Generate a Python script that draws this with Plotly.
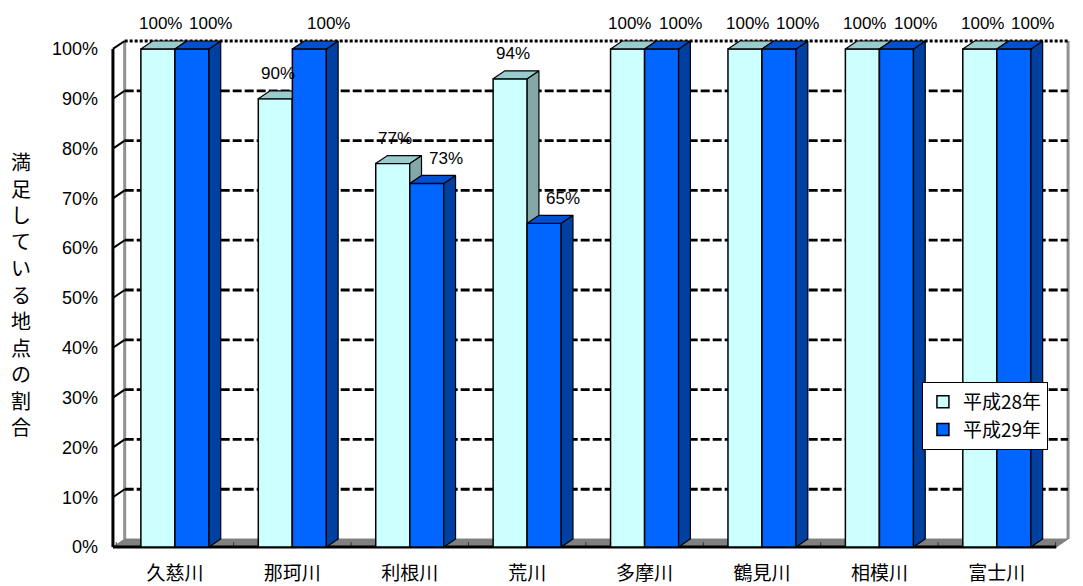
import plotly.graph_objects as go

# ---------------- data ----------------
categories = ["久慈川", "那珂川", "利根川", "荒川", "多摩川", "鶴見川", "相模川", "富士川"]
h28 = [100, 90, 77, 94, 100, 100, 100, 100]
h29 = [100, 100, 73, 65, 100, 100, 100, 100]
series_names = ["平成28年", "平成29年"]
y_tick_vals = [0, 10, 20, 30, 40, 50, 60, 70, 80, 90, 100]
y_tick_text = ["0%", "10%", "20%", "30%", "40%", "50%", "60%", "70%", "80%", "90%", "100%"]
y_title = "満足している地点の割合"

# ---------------- geometry / style ----------------
BW = 0.29      # bar width (category units)
DX = 0.10      # 3D depth in x (category units)
DY = 1.6       # 3D depth in y (percent units)
X0, X1 = -0.553, 7.640
Y0, Y1 = -0.6, 102.4
front_left = -0.528
back_right = 7.6065
front_right = back_right - DX
LABEL_DX = {0: -0.03, 1: 0.11}   # label horizontal nudge per series
LABEL_YSHIFT = 17                # px lift of label centre above top face
FIG_W, FIG_H = 1075, 578
MARGIN = dict(l=102, r=11, t=29, b=36)
TITLE_STEP_PX = 26.5             # vertical pitch of the stacked title characters

LIGHT = dict(front="#CCFFFF", top="#99CCCC", side="#84A8A8")
DARK = dict(front="#0066FF", top="#0050D0", side="#0040A0")
OUT = "black"
TXT_FONT = "Liberation Sans, Arial, sans-serif"
CJK_FONT = "Noto Sans CJK JP, sans-serif"

fig = go.Figure()

# ---------- base layer: floor, walls, gridlines ----------
fig.add_trace(go.Scatter(
    x=[front_left, front_right, back_right, front_left + DX, front_left],
    y=[0, 0, DY, DY, 0], fill="toself", fillcolor="#808080",
    mode="lines", line=dict(color="#808080", width=1),
    showlegend=False, hoverinfo="skip", xaxis="x", yaxis="y"))
fx, fy = [], []
for i in range(len(categories) + 1):
    b = i - 0.5
    if b < front_left:
        continue
    fx += [b, b, None]
    fy += [0, DY * 0.6, None]
fig.add_trace(go.Scatter(x=fx, y=fy, mode="lines", line=dict(color="#333333", width=1),
                         showlegend=False, hoverinfo="skip", xaxis="x", yaxis="y"))
fig.add_trace(go.Scatter(
    x=[front_left + DX, front_left + DX, None, back_right, back_right],
    y=[DY, 100 + DY, None, DY, 100 + DY],
    mode="lines", line=dict(color="#909090", width=3),
    showlegend=False, hoverinfo="skip", xaxis="x", yaxis="y"))
gx, gy = [], []
for v in y_tick_vals[1:-1]:
    gx += [front_left + DX, back_right, None]
    gy += [v + DY, v + DY, None]
fig.add_trace(go.Scatter(x=gx, y=gy, mode="lines",
                         line=dict(color="black", width=2.8, dash="9px,3px"),
                         showlegend=False, hoverinfo="skip", xaxis="x", yaxis="y"))
fig.add_trace(go.Scatter(x=[front_left + DX, back_right], y=[100 + DY, 100 + DY], mode="lines",
                         line=dict(color="black", width=3, dash="3px,2px"),
                         showlegend=False, hoverinfo="skip", xaxis="x", yaxis="y"))
wx, wy = [], []
for v in y_tick_vals[1:]:
    wx += [front_left, front_left + DX, None]
    wy += [v, v + DY, None]
fig.add_trace(go.Scatter(x=wx, y=wy, mode="lines", line=dict(color="black", width=2),
                         showlegend=False, hoverinfo="skip", xaxis="x", yaxis="y"))
fig.add_trace(go.Scatter(x=[front_left, front_left, None, front_left, front_right],
                         y=[100, 0, None, 0, 0], mode="lines",
                         line=dict(color="black", width=3),
                         showlegend=False, hoverinfo="skip", xaxis="x", yaxis="y"))


def add_series(vals, name, col, offset, xa, ya):
    xs = list(range(len(vals)))
    fig.add_trace(go.Bar(
        x=xs, y=vals, width=[BW] * len(vals), offset=offset, name=name,
        marker=dict(color=col["front"], line=dict(color=OUT, width=1.5)),
        xaxis=xa, yaxis=ya, showlegend=True, hoverinfo="skip"))
    sx, sy, tx, ty = [], [], [], []
    for i, v in enumerate(vals):
        xl = i + offset
        xr = xl + BW
        sx += [xr, xr, xr + DX, xr + DX, xr, None]
        sy += [0, v, v + DY, DY, 0, None]
        tx += [xl, xr, xr + DX, xl + DX, xl, None]
        ty += [v, v, v + DY, v + DY, v, None]
    fig.add_trace(go.Scatter(x=sx, y=sy, fill="toself", fillcolor=col["side"], mode="lines",
                             line=dict(color=OUT, width=1.2), showlegend=False,
                             hoverinfo="skip", xaxis=xa, yaxis=ya))
    fig.add_trace(go.Scatter(x=tx, y=ty, fill="toself", fillcolor=col["top"], mode="lines",
                             line=dict(color=OUT, width=1.2), showlegend=False,
                             hoverinfo="skip", xaxis=xa, yaxis=ya))


add_series(h28, series_names[0], LIGHT, -BW, "x2", "y2")
add_series(h29, series_names[1], DARK, 0.0, "x3", "y3")

# data labels as annotations anchored to the top face of each bar
annotations = []
for k, (vals, offset) in enumerate(((h28, -BW), (h29, 0.0))):
    for i, v in enumerate(vals):
        annotations.append(dict(
            x=i + offset + BW / 2 + DX / 2 + LABEL_DX[k], y=v + DY,
            xref="x", yref="y", text=f"{v}%", showarrow=False,
            xanchor="center", yanchor="middle", yshift=LABEL_YSHIFT,
            font=dict(family=TXT_FONT, size=17, color="black")))

# stacked vertical axis title, one character per box
plot_h = FIG_H - MARGIN["t"] - MARGIN["b"]
step = TITLE_STEP_PX / plot_h
n = len(y_title)
for i, ch in enumerate(y_title):
    annotations.append(dict(
        text=ch, xref="paper", yref="paper",
        x=-0.0925, y=0.50 + ((n - 1) / 2 - i) * step,
        xanchor="center", yanchor="middle", showarrow=False,
        height=24, borderpad=0, valign="middle",
        font=dict(family=CJK_FONT, size=20, color="black")))

hidden = dict(visible=False, showgrid=False, zeroline=False)
fig.update_layout(
    width=FIG_W, height=FIG_H,
    margin=MARGIN,
    paper_bgcolor="white", plot_bgcolor="white",
    barmode="overlay",
    xaxis=dict(range=[X0, X1], tickvals=list(range(len(categories))), ticktext=categories,
               showgrid=False, zeroline=False, showline=False, ticks="", automargin=False,
               tickfont=dict(family=CJK_FONT, size=19, color="black"),
               ticklabelstandoff=10),
    yaxis=dict(range=[Y0, Y1], tickvals=y_tick_vals, ticktext=y_tick_text,
               showgrid=False, zeroline=False, showline=False, ticks="", automargin=False,
               tickfont=dict(family=TXT_FONT, size=18, color="black"),
               ticklabelstandoff=11),
    xaxis2=dict(overlaying="x", matches="x", **hidden),
    yaxis2=dict(overlaying="y", matches="y", **hidden),
    xaxis3=dict(overlaying="x", matches="x", **hidden),
    yaxis3=dict(overlaying="y", matches="y", **hidden),
    legend=dict(x=0.844, y=0.3275, xanchor="left", yanchor="top",
                bgcolor="white", bordercolor="black", borderwidth=1,
                font=dict(family=CJK_FONT, size=19, color="black"),
                itemwidth=30, tracegroupgap=2),
    annotations=annotations,
)

fig.write_html("out.html")
